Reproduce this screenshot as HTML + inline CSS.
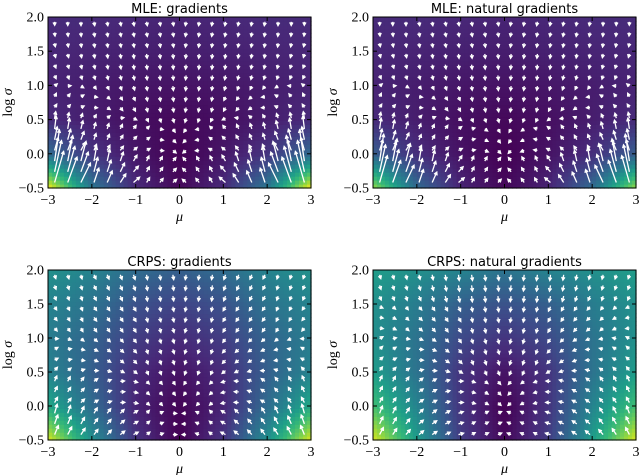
<!DOCTYPE html>
<html><head><meta charset="utf-8"><style>
html,body{margin:0;padding:0;background:#fff;width:640px;height:475px;overflow:hidden}
svg{display:block}
.tk{font-family:"Liberation Serif",serif;font-size:14px;fill:#000}
.tt{font-family:"DejaVu Sans","Liberation Sans",sans-serif;font-size:13px;fill:#000}
</style></head><body>
<svg id="fig" width="640" height="475"></svg>
<script>
const muTicks=[-3,-2,-1,0,1,2,3];
const sigTicks=[-0.5,0,0.5,1,1.5,2];
const titles=["MLE: gradients","MLE: natural gradients","CRPS: gradients","CRPS: natural gradients"];
// coarse grids of normalized loss value, rows = logσ -0.5..2, cols = μ -3..3
const gridMLE=[[1,0.4,0.12,0.02,0.12,0.4,1],[0.35,0.15,0.06,0,0.06,0.15,0.35],[0.12,0.08,0.04,0.02,0.04,0.08,0.12],[0.1,0.08,0.06,0.05,0.06,0.08,0.1],[0.11,0.1,0.09,0.08,0.09,0.1,0.11],[0.12,0.12,0.11,0.1,0.11,0.12,0.12]];
const gridMLEnat=[[0.85,0.35,0.1,0.02,0.1,0.35,0.85],[0.3,0.13,0.05,0,0.05,0.13,0.3],[0.12,0.08,0.04,0.02,0.04,0.08,0.12],[0.1,0.08,0.06,0.05,0.06,0.08,0.1],[0.11,0.1,0.09,0.08,0.09,0.1,0.11],[0.12,0.12,0.11,0.1,0.11,0.12,0.12]];
const gridCRPS=[[0.95,0.5,0.15,0,0.15,0.5,0.95],[0.6,0.35,0.1,0.01,0.1,0.35,0.6],[0.45,0.3,0.12,0.05,0.12,0.3,0.45],[0.42,0.32,0.18,0.12,0.18,0.32,0.42],[0.45,0.38,0.25,0.2,0.25,0.38,0.45],[0.5,0.45,0.35,0.3,0.35,0.45,0.5]];
const gridCRPSnat=[[0.95,0.55,0.18,0.02,0.18,0.55,0.95],[0.7,0.45,0.15,0,0.15,0.45,0.7],[0.55,0.38,0.15,0.05,0.15,0.38,0.55],[0.5,0.38,0.22,0.15,0.22,0.38,0.5],[0.5,0.42,0.3,0.25,0.3,0.42,0.5],[0.55,0.5,0.45,0.38,0.45,0.5,0.55]];
const grids=[gridMLE,gridMLEnat,gridCRPS,gridCRPSnat];
const panels=[{x:48,y:17,w:263,h:171},{x:373,y:17,w:263,h:171},{x:48,y:270,w:263,h:170},{x:373,y:270,w:263,h:170}];
const NS="http://www.w3.org/2000/svg";
const fig=document.getElementById('fig');
const vir=[[68,1,84],[72,40,120],[62,74,137],[49,104,142],[38,130,142],[31,158,137],[53,183,121],[109,205,89],[180,222,44],[253,231,37]];
function col(v){v=Math.max(0,Math.min(1,v))*9;const i=Math.min(8,Math.floor(v)),f=v-i;const a=vir[i],b=vir[i+1];return `rgb(${a.map((c,k)=>Math.round(c+(b[k]-c)*f)).join(',')})`;}
function sample(g,mu,s){const cx=(mu+3),cy=(s+0.5)/0.5;const i=Math.max(0,Math.min(5,Math.floor(cx))),j=Math.max(0,Math.min(4,Math.floor(cy)));const fx=cx-i,fy=cy-j;
return g[j][i]*(1-fx)*(1-fy)+g[j][i+1]*fx*(1-fy)+g[j+1][i]*(1-fx)*fy+g[j+1][i+1]*fx*fy;}
function mk(tag,attrs,parent){const e=document.createElementNS(NS,tag);for(const k in attrs)e.setAttribute(k,attrs[k]);(parent||fig).appendChild(e);return e;}
panels.forEach((p,pi)=>{
  const g=mk('g',{});
  
  
  const xs=mu=>p.x+(mu+3)/6*p.w, ys=s=>p.y+p.h-(s+0.5)/2.5*p.h;
  const N=66,M=43;
  for(let i=0;i<N;i++)for(let j=0;j<M;j++){
    const mu=-3+6*(i+0.5)/N,s=-0.5+2.5*(j+0.5)/M;
    mk('rect',{x:(p.x+i*p.w/N).toFixed(2),y:(p.y+p.h-(j+1)*p.h/M).toFixed(2),width:(p.w/N+0.6).toFixed(2),height:(p.h/M+0.6).toFixed(2),fill:col(sample(grids[pi],mu,s))},g);
  }
  const clipId='clip'+pi;
  const cp=mk('clipPath',{id:clipId},g);mk('rect',{x:p.x,y:p.y,width:p.w,height:p.h},cp);
  const ag=mk('g',{'clip-path':`url(#${clipId})`},g);
  for(let i=0;i<20;i++)for(let j=0;j<16;j++){
    const mu=-2.85+5.7*i/19,s=-0.42+2.35*j/15;
    const gx=(sample(grids[pi],mu+0.05,s)-sample(grids[pi],mu-0.05,s))/0.1/6*p.w;
    const gy=(sample(grids[pi],mu,s+0.05)-sample(grids[pi],mu,s-0.05))/0.1/2.5*p.h;
    let dx=-gx,dy=gy; const m=Math.hypot(dx,dy)||1e-6;
    let L=Math.min(pi<2?70:18,3+m*(pi<2?0.35:0.14));
    const ux=dx/m,uy=dy/m,x0=xs(mu),y0=ys(s);
    const x1=x0+ux*L,y1=y0+uy*L;
    const a=mk('path',{d:`M${x0.toFixed(1)},${y0.toFixed(1)}L${x1.toFixed(1)},${y1.toFixed(1)}M${(x1-ux*3-uy*1.6).toFixed(1)},${(y1-uy*3+ux*1.6).toFixed(1)}L${x1.toFixed(1)},${y1.toFixed(1)}L${(x1-ux*3+uy*1.6).toFixed(1)},${(y1-uy*3-ux*1.6).toFixed(1)}`,stroke:'#fff','stroke-width':1.3,fill:'none'},ag);
    
    
  }
  const fr=mk('rect',{x:p.x,y:p.y,width:p.w,height:p.h,fill:'none',stroke:'#000','stroke-width':1},g);
  
  
  muTicks.forEach(t=>{const x=xs(t);mk('line',{x1:x,x2:x,y1:p.y+p.h,y2:p.y+p.h-4,stroke:'#000'},g);mk('line',{x1:x,x2:x,y1:p.y,y2:p.y+4,stroke:'#000'},g);
    const tx=mk('text',{x:x,y:p.y+p.h+16,'text-anchor':'middle',class:'tk'},g);tx.textContent=(t<0?'\u2212'+(-t):t);
    });
  sigTicks.forEach(t=>{const y=ys(t);mk('line',{x1:p.x,x2:p.x+4,y1:y,y2:y,stroke:'#000'},g);mk('line',{x1:p.x+p.w,x2:p.x+p.w-4,y1:y,y2:y,stroke:'#000'},g);
    const tx=mk('text',{x:p.x-4,y:y+4.5,'text-anchor':'end',class:'tk'},g);tx.textContent=(t<0?'\u2212':'')+Math.abs(t).toFixed(1);
    });
  const ti=mk('text',{x:p.x+p.w/2,y:p.y-4,'text-anchor':'middle',class:'tt'},g);ti.textContent=titles[pi];
  
  const xl=mk('text',{x:p.x+p.w/2,y:p.y+p.h+33,'text-anchor':'middle',class:'tk','font-style':'italic'},g);xl.textContent='μ';
  
  const yx=p.x-36,yy=p.y+p.h/2;
  const yl=mk('text',{x:yx,y:yy,'text-anchor':'middle',class:'tk',transform:`rotate(-90 ${yx} ${yy})`},g);yl.innerHTML='log <tspan font-style="italic">σ</tspan>';
  
});
</script>
</body></html>
